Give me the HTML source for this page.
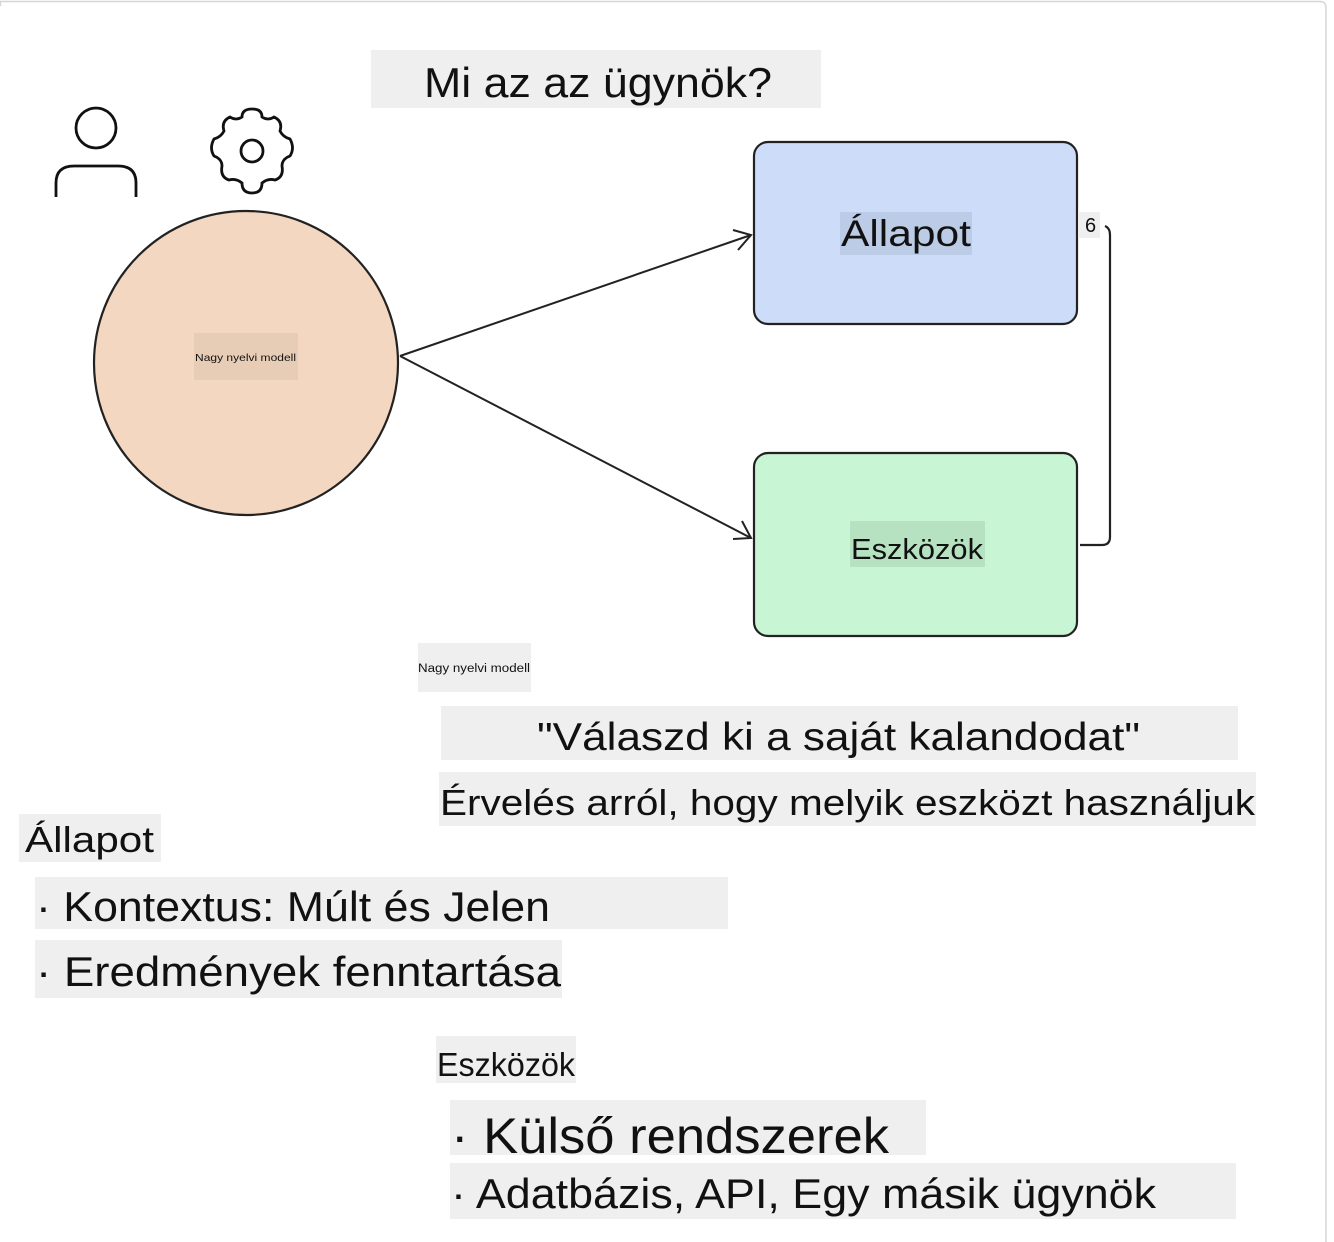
<!DOCTYPE html>
<html><head><meta charset="utf-8"><style>
html,body{margin:0;padding:0;background:#fff;}
svg{display:block;}
text{font-family:"Liberation Sans","DejaVu Sans",sans-serif;fill:#111;}
</style></head><body>
<svg width="1334" height="1242" viewBox="0 0 1334 1242" xmlns="http://www.w3.org/2000/svg">
<rect x="0" y="0" width="1334" height="1242" fill="#fff"/>
<path d="M0.5 6 V1.5 H1320 Q1326 1.5 1326 8 V1242" fill="none" stroke="#d6d6d6" stroke-width="1.5"/>
<!-- title -->
<rect x="371" y="50" width="450" height="58" fill="#efefef"/>
<text x="424" y="97" font-size="42" textLength="348" lengthAdjust="spacingAndGlyphs">Mi az az ügynök?</text>
<!-- person icon -->
<circle cx="96" cy="128" r="20" fill="none" stroke="#111" stroke-width="2.8"/>
<path d="M56 197 V183 Q56 166 74 166 H118 Q136 166 136 183 V197" fill="none" stroke="#111" stroke-width="2.8"/>
<!-- gear icon -->
<g transform="translate(252,151)" fill="none" stroke="#111" stroke-width="2.8">
<circle r="11"/>
<path id="g" d=""/>
</g>
<path fill="none" stroke="#111" stroke-width="2.8" d="
M252 109 Q262 109 262 117 Q268 121 274 117 Q283 121 280 131 Q283 137 290 139 Q295 148 290 156 Q282 159 282 166 Q284 177 275 180 Q268 178 262 183 Q262 193 252 193 Q242 193 242 183 Q236 178 229 180 Q220 177 222 166 Q222 159 214 156 Q209 148 214 139 Q221 137 224 131 Q221 121 230 117 Q236 121 242 117 Q242 109 252 109 Z"/>
<!-- circle -->
<circle cx="246" cy="363" r="152" fill="#f3d7c1" stroke="#222" stroke-width="2.2"/>
<rect x="194" y="333" width="104" height="47" fill="#e8cdb6"/>
<text x="195" y="361" font-size="10.5" textLength="101" lengthAdjust="spacingAndGlyphs">Nagy nyelvi modell</text>
<!-- arrows -->
<g fill="none" stroke="#222" stroke-width="2">
<path d="M400 356 L751 235"/>
<path d="M733 230 L751 235 L738 250"/>
<path d="M400 356 L751 538"/>
<path d="M742 521 L751 538 L733 539"/>
</g>
<!-- boxes -->
<rect x="754" y="142" width="323" height="182" rx="14" fill="#cddcf8" stroke="#222" stroke-width="2.2"/>
<rect x="840" y="212" width="132" height="43" fill="#bccbe6"/>
<text x="841" y="246" font-size="37" textLength="130" lengthAdjust="spacingAndGlyphs">Állapot</text>
<rect x="754" y="453" width="323" height="183" rx="14" fill="#c8f5d4" stroke="#222" stroke-width="2.2"/>
<rect x="850" y="521" width="135" height="46" fill="#b6e2c1"/>
<text x="851" y="559" font-size="29" textLength="132" lengthAdjust="spacingAndGlyphs">Eszközök</text>
<!-- connector -->
<path d="M1080 545 H1102 Q1110 545 1110 537 V235 Q1110 228 1105 226" fill="none" stroke="#222" stroke-width="2.2"/>
<rect x="1078" y="212" width="22" height="26" fill="#efefef"/>
<text x="1085" y="232" font-size="20">6</text>
<!-- small label -->
<rect x="418" y="643" width="113" height="49" fill="#efefef"/>
<text x="418" y="672" font-size="11.5" textLength="112" lengthAdjust="spacingAndGlyphs">Nagy nyelvi modell</text>
<!-- quote -->
<rect x="441" y="706" width="797" height="54" fill="#efefef"/>
<text x="537" y="750" font-size="39" textLength="603" lengthAdjust="spacingAndGlyphs">"Válaszd ki a saját kalandodat"</text>
<rect x="439" y="772" width="817" height="54" fill="#efefef"/>
<text x="440" y="815" font-size="36" textLength="815" lengthAdjust="spacingAndGlyphs">Érvelés arról, hogy melyik eszközt használjuk</text>
<!-- Állapot list -->
<rect x="19" y="814" width="142" height="48" fill="#efefef"/>
<text x="25" y="852" font-size="36" textLength="129" lengthAdjust="spacingAndGlyphs">Állapot</text>
<rect x="35" y="877" width="693" height="52" fill="#efefef"/>
<text x="36" y="921" font-size="42" textLength="514" lengthAdjust="spacingAndGlyphs">· Kontextus: Múlt és Jelen</text>
<rect x="35" y="940" width="527" height="58" fill="#efefef"/>
<text x="36" y="986" font-size="42" textLength="525" lengthAdjust="spacingAndGlyphs">· Eredmények fenntartása</text>
<!-- Eszközök list -->
<rect x="436" y="1036" width="140" height="47" fill="#efefef"/>
<text x="437" y="1076" font-size="33" textLength="138" lengthAdjust="spacingAndGlyphs">Eszközök</text>
<rect x="450" y="1100" width="476" height="55" fill="#efefef"/>
<text x="451" y="1153" font-size="50" textLength="438" lengthAdjust="spacingAndGlyphs">· Külső rendszerek</text>
<rect x="450" y="1163" width="786" height="56" fill="#efefef"/>
<text x="451" y="1208" font-size="42" textLength="705" lengthAdjust="spacingAndGlyphs">· Adatbázis, API, Egy másik ügynök</text>
</svg>
</body></html>
